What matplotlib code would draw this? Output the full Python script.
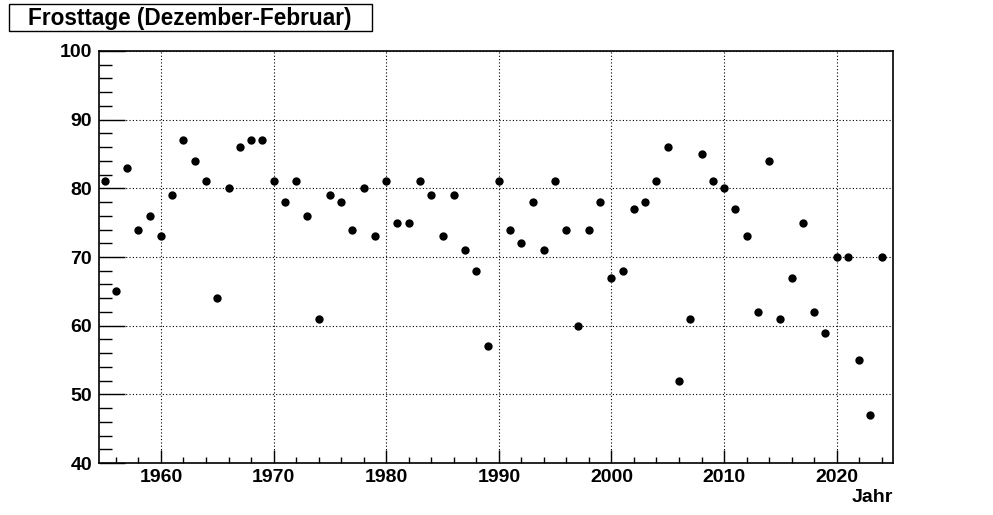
import matplotlib
matplotlib.use("Agg")
import matplotlib.pyplot as plt
from matplotlib.ticker import MultipleLocator
from matplotlib.patches import Rectangle

years = list(range(1955, 2025))
frosttage = [81, 65, 83, 74, 76, 73, 79, 87, 84, 81,
             64, 80, 86, 87, 87, 81, 78, 81, 76, 61,
             79, 78, 74, 80, 73, 81, 75, 75, 81, 79,
             73, 79, 71, 68, 57, 81, 74, 72, 78, 71,
             81, 74, 60, 74, 78, 67, 68, 77, 78, 81,
             86, 52, 61, 85, 81, 80, 77, 73, 62, 84,
             61, 67, 75, 62, 59, 70, 70, 55, 47, 70]
title = "Frosttage (Dezember-Februar)"
xlabel = "Jahr"

plt.rcParams['font.family'] = ['Liberation Sans', 'DejaVu Sans']
plt.rcParams['font.weight'] = 'bold'

fig = plt.figure(figsize=(9.93, 5.15), dpi=100)
W, H = 993, 515
ax = fig.add_axes([99 / W, (H - 463) / H, (893 - 99) / W, (463 - 51) / H])

ax.plot(years, frosttage, 'o', color='black', markersize=6, markeredgewidth=0)

ax.set_xlim(1954.5, 2025.0)
ax.set_ylim(40, 100)
ax.xaxis.set_major_locator(MultipleLocator(10))
ax.xaxis.set_minor_locator(MultipleLocator(2))
ax.yaxis.set_major_locator(MultipleLocator(10))
ax.yaxis.set_minor_locator(MultipleLocator(2))
ax.tick_params(axis='x', which='major', direction='in', length=9.5, width=1, labelsize=14, pad=4)
ax.tick_params(axis='x', which='minor', direction='in', length=4.5, width=1)
ax.tick_params(axis='y', which='major', direction='in', length=18.5, width=1, labelsize=14, pad=5)
ax.tick_params(axis='y', which='minor', direction='in', length=9, width=1)
for lab in ax.get_xticklabels() + ax.get_yticklabels():
    lab.set_fontweight('bold')
ax.grid(True, which='major', linestyle=(0, (1, 2)), color='black', linewidth=0.8)
for s in ax.spines.values():
    s.set_linewidth(1.2)

ax.text(1.0, -0.062, xlabel, transform=ax.transAxes, ha='right', va='top',
        fontsize=14, fontweight='bold')

fig.patches.append(Rectangle((9 / W, 1 - 31 / H), (372 - 9) / W, 27 / H,
                             transform=fig.transFigure, facecolor='white',
                             edgecolor='black', linewidth=1))
fig.text(28 / W, 1 - 18 / H, title, ha='left', va='center', fontsize=16.3,
         fontweight='bold')

fig.savefig("out.png", dpi=100)
